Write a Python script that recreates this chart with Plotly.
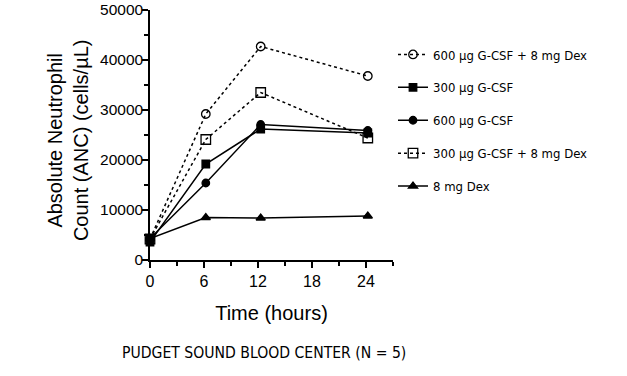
import plotly.graph_objects as go

hours = [0, 6.2, 12.3, 24.2]
series_names = ["600 µg G-CSF + 8 mg Dex", "300 µg G-CSF", "600 µg G-CSF",
                "300 µg G-CSF + 8 mg Dex", "8 mg Dex"]
anc_600_dex = [4200, 29200, 42700, 36800]
anc_300 = [3600, 19200, 26200, 25400]
anc_600 = [4300, 15400, 27100, 25900]
anc_300_dex = [4200, 24100, 33500, 24400]
anc_dex = [4300, 8500, 8400, 8800]
x_tick_vals = [0, 6, 12, 18, 24]
y_tick_vals = [0, 10000, 20000, 30000, 40000, 50000]
y_tick_text = ["0", "10000", "20000", "30000", "40000", "50000"]

values = [anc_600_dex, anc_300, anc_600, anc_300_dex, anc_dex]
dashes = ["dot", "solid", "solid", "dot", "solid"]
symbols = ["circle-open", "square", "circle", "square-open", "triangle-up"]
sizes = [8.5, 7.5, 7.5, 9.5, 8]

fig = go.Figure()
for i, (name, vals) in enumerate(zip(series_names, values)):
    fig.add_trace(go.Scatter(
        x=hours, y=vals, name=name, mode="lines+markers",
        line=dict(color="black", width=1.5, dash=dashes[i]),
        marker=dict(symbol=symbols[i], size=sizes[i], color="black",
                    line=dict(color="black", width=1.3)),
        legendgroup=f"g{i}", cliponaxis=False,
    ))

font_main = "Liberation Sans, Arial, sans-serif"
font_narrow = "DejaVu Sans Condensed, Liberation Sans Narrow, Arial Narrow, sans-serif"

fig.update_layout(
    width=627, height=376,
    margin=dict(l=150, r=234, t=10, b=116),
    paper_bgcolor="white", plot_bgcolor="white",
    showlegend=True,
    legend=dict(x=1.0, y=0.882, xanchor="left", yanchor="top",
                font=dict(family=font_narrow, size=13, color="black"),
                tracegroupgap=13, bgcolor="rgba(0,0,0,0)"),
    xaxis=dict(range=[0, 27], tickvals=x_tick_vals, ticks="outside",
               ticklen=6, tickwidth=1.5, tickcolor="black",
               showline=True, linecolor="black", linewidth=1.5,
               showgrid=False, zeroline=False, automargin=False,
               ticklabeloverflow="allow",
               minor=dict(dtick=3, tick0=0, ticks="outside", ticklen=4,
                          tickcolor="black", tickwidth=1.5),
               tickfont=dict(family=font_main, size=16, color="black"),
               title=dict(text="Time (hours)", standoff=17,
                          font=dict(family=font_main, size=20, color="black"))),
    yaxis=dict(range=[0, 50000], tickvals=y_tick_vals, ticktext=y_tick_text,
               ticks="outside",
               ticklen=6, tickwidth=1.5, tickcolor="black",
               showline=True, linecolor="black", linewidth=1.5,
               showgrid=False, zeroline=False, automargin=False,
               ticklabeloverflow="allow", ticklabelstandoff=-4,
               minor=dict(dtick=5000, ticks="outside", ticklen=4,
                          tickcolor="black", tickwidth=1.5),
               tickfont=dict(family=font_main, size=15.5, color="black")),
    annotations=[
        dict(text="PUDGET SOUND BLOOD CENTER (N = 5)",
             xref="paper", yref="paper", x=0.47, y=-0.37,
             xanchor="center", yanchor="middle", showarrow=False,
             font=dict(family=font_narrow, size=15.6, color="black")),
        dict(text="Absolute Neutrophil<br>Count (ANC) (cells/µL)",
             xref="paper", yref="paper", x=-0.337, y=0.48,
             xanchor="center", yanchor="middle", showarrow=False,
             textangle=-90,
             font=dict(family=font_main, size=20, color="black")),
    ],
)

fig.write_html("out.html", config={"displayModeBar": False},
               post_script="document.body.style.margin='0';document.body.style.overflow='hidden';")
